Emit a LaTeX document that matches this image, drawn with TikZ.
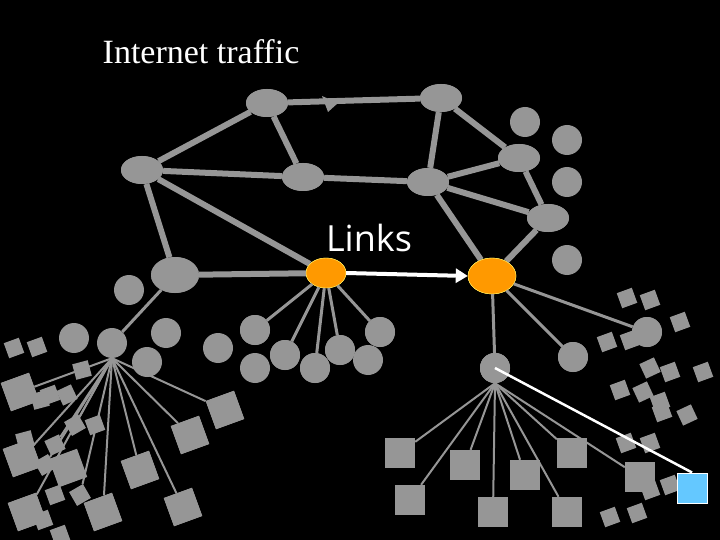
\documentclass[tikz,border=0pt]{standalone}
\usepackage{fontspec}
\setmainfont{Liberation Serif}
\newfontfamily\linksfont{Open Sans}
\usetikzlibrary{arrows.meta,shapes.geometric}
\definecolor{nd}{RGB}{150,150,150}
\definecolor{org}{RGB}{255,153,0}
\definecolor{sky}{RGB}{100,200,255}
\begin{document}
\begin{tikzpicture}[x=1pt,y=-1pt,
  ell/.style={ellipse,fill=nd,minimum width=42pt,minimum height=28pt,inner sep=0pt},
  oel/.style={ellipse,fill=org,draw=yellow!60,minimum width=44pt,minimum height=32pt,inner sep=0pt},
  cir/.style={circle,fill=nd,minimum size=30pt,inner sep=0pt},
  bsq/.style={rectangle,fill=nd,minimum size=30pt,inner sep=0pt},
  ssq/.style={rectangle,fill=nd,minimum size=16pt,inner sep=0pt},
  thick6/.style={draw=nd,line width=6pt},
  thin3/.style={draw=nd,line width=3pt}]
\useasboundingbox[fill=black] (0,0) rectangle (720,540);
\node[anchor=base,font=\fontsize{34}{34}\selectfont,text=white] (title) at (201,64) {Internet traffic};
% top network
\node[ell] (A) at (267,103) {};
\node[ell] (B) at (441,98) {};
\node[ell] (C) at (142,170) {};
\node[ell] (D) at (303,177) {};
\node[ell] (E) at (428,182) {};
\node[ell] (F) at (519,158) {};
\node[ell] (G) at (548,218) {};
\node[ell,minimum width=48pt,minimum height=36pt] (H) at (175,275) {};
\node[oel,minimum width=40pt,minimum height=30pt] (O1) at (326,273) {};
\node[oel,minimum width=48pt,minimum height=36pt] (O2) at (492,276) {};
\foreach \n/\x/\y in {c1/525/122,c2/567/140,c3/567/182,c4/567/260,c5/129/290}
  \node[cir] (\n) at (\x,\y) {};
\foreach \a/\b in {A/B,A/C,A/D,C/D,C/H,C/O1,H/O1,B/E,B/F,E/D,E/F,E/G,E/O2,F/G,G/O2}
  \draw[thick6] (\a) -- (\b);
\fill[nd] (322,96) -- (338,103) -- (328,112) -- cycle;
% redraw nodes on top
\node[ell] at (267,103) {};\node[ell] at (441,98) {};\node[ell] at (142,170) {};
\node[ell] at (303,177) {};\node[ell] at (428,182) {};\node[ell] at (519,158) {};
\node[ell] at (548,218) {};\node[ell,minimum width=48pt,minimum height=36pt] at (175,275) {};
\node[oel,minimum width=40pt,minimum height=30pt] at (326,273) {};
\node[oel,minimum width=48pt,minimum height=36pt] at (492,276) {};
\node[text=white,font=\linksfont\fontsize{36}{36}\selectfont] (links) at (369,238) {Links};
\draw[white,line width=4pt,-{Triangle[length=12pt,width=14pt]}] (O1.east) -- (O2.west);
% middle circles
\foreach \n/\x/\y in {m1/218/348,m2/255/330,m3/255/368,m4/285/355,m5/315/368,m6/340/350,m7/368/360,m8/380/332,
  l1/74/338,l3/166/333,l4/147/362,r1/573/357,r2/647/332}
  \node[cir] (\n) at (\x,\y) {};
\node[cir] (LH) at (112,343) {};
\node[cir] (RH) at (495,368) {};
\foreach \t in {m2,m4,m5,m6,m8} \draw[thin3] (O1) -- (\t);
\draw[thin3] (H) -- (LH);
\draw[thin3] (O2) -- (RH); \draw[thin3] (O2) -- (r1); \draw[thin3] (O2) -- (r2);
\foreach \n/\x/\y in {m2/255/330,m4/285/355,m5/315/368,m6/340/350,m8/380/332,r1/573/357,r2/647/332,RH/495/368}
  \node[cir] at (\x,\y) {};
% left squares
\foreach \n/\x/\y/\r in {s1/14/348/20,s2/37/347/20,
  q1/50/395/20,q2/67/395/25,q3/75/425/30,q4/95/425/20,q5/55/445/25,q6/45/465/30,q7/80/495/30,q8/55/495/20,q9/43/520/20,
  q10/60/535/20,q11/25/440/15,q12/82/370/15,q13/40/400/15}
  \node[ssq,rotate=\r] (\n) at (\x,\y) {};
\foreach \n/\x/\y/\r in {b1/20/392/20,b2/225/410/20,b3/190/435/20,b4/22/458/20,b5/68/468/20,b6/140/470/20,
  b7/103/512/20,b8/183/507/20,b9/27/512/20}
  \node[bsq,rotate=\r] (\n) at (\x,\y) {};
\foreach \t in {b1,b2,b3,b4,b6,b7,b8,b9,q3,q6,q7,q5}
  \draw[nd,line width=2pt] (LH.south) -- (\t);
\foreach \n/\x/\y in {b1/20/392,b2/225/410,b3/190/435,b4/22/458,b6/140/470,b7/103/512,b8/183/507,b9/27/512}
  \node[bsq,rotate=20] at (\x,\y) {};
% right squares
\foreach \n/\x/\y/\r in {t1/627/298/20,t2/650/300/20,t3/607/342/20,t4/680/322/20,t5/630/340/20,t6/650/368/25,
  t7/670/372/20,t8/703/372/20,t9/620/390/20,t10/643/392/25,t11/660/402/20,t12/662/412/20,t13/687/415/25,
  t14/626/443/20,t15/650/443/20,t16/610/517/20,t17/637/513/20,t18/650/490/20,t19/670/485/20}
  \node[ssq,rotate=\r] (\n) at (\x,\y) {};
\foreach \n/\x/\y in {R1/400/453,R2/465/465,R3/525/475,R4/572/453,R5/493/512,R6/567/512,R7/410/500,R8/640/477}
  \node[bsq] (\n) at (\x,\y) {};
\node[bsq,fill=sky,draw=white,line width=1pt] (blue) at (692,488) {};
\foreach \t in {R1,R2,R3,R4,R5,R6,R7,R8} \draw[nd,line width=2pt] (RH.south) -- (\t);
\foreach \n/\x/\y in {R1/400/453,R2/465/465,R3/525/475,R4/572/453,R5/493/512,R6/567/512,R7/410/500,R8/640/477}
  \node[bsq] at (\x,\y) {};
\node[cir] at (495,368) {};
\draw[white,line width=2.5pt] (RH.center) -- (blue.north);
\end{tikzpicture}
\end{document}
